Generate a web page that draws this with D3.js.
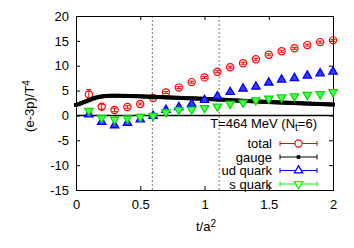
<!DOCTYPE html>
<html><head><meta charset="utf-8">
<script src="https://cdn.jsdelivr.net/npm/d3@7"></script>
<style>
html,body{margin:0;padding:0;background:#fff;}
text{font-family:"Liberation Sans",Arial,Helvetica,sans-serif;font-size:13px;fill:#000;}
</style></head>
<body><svg id="c" width="354" height="248"></svg>
<script>
// ---- data ----
const tPoints = [0.1,0.2,0.3,0.4,0.5,0.6,0.7,0.8,0.9,1.0,1.1,1.2,1.3,1.4,1.5,1.6,1.7,1.8,1.9,2.0];
const totalVals = [4.2,1.75,1.1,1.7,2.3,3.5,4.6,5.6,6.7,7.65,8.8,9.7,10.5,11.3,12.2,12.9,13.5,14.15,14.75,15.1];
const totalErr  = [1.0,0.5,0.35,0.25,0.2,0.2,0.2,0.2,0.2,0.2,0.2,0.2,0.2,0.2,0.2,0.2,0.2,0.2,0.2,0.2];
const udVals = [0.2,-1.3,-2.0,-1.5,-0.8,-0.1,1.1,1.65,2.3,3.1,3.85,4.7,5.4,5.8,6.6,7.2,7.5,8.0,8.45,8.8];
const sVals  = [0.95,-0.5,-0.8,-0.6,-0.3,-0.1,0.65,1.1,1.2,1.5,1.8,2.35,2.6,3.05,3.4,3.65,3.85,4.15,4.3,4.7];
const gaugeStep = 0.02;
const gaugeVals = [2.10,2.25,2.45,2.65,2.85,3.05,3.25,3.45,3.60,3.72,3.82,3.88,3.92,3.95,3.96,3.96,3.96,3.95,3.94,3.93,
 3.92,3.91,3.89,3.88,3.86,3.84,3.82,3.80,3.78,3.76,3.74,3.72,3.70,3.68,3.66,3.64,3.62,3.60,3.58,3.56,
 3.54,3.52,3.50,3.48,3.46,3.44,3.42,3.40,3.38,3.36,3.33,3.31,3.29,3.26,3.24,3.21,3.19,3.16,3.13,3.11,
 3.08,3.05,3.02,3.00,2.97,2.94,2.92,2.89,2.87,2.84,2.82,2.79,2.77,2.74,2.72,2.70,2.67,2.65,2.63,2.61,
 2.59,2.57,2.55,2.53,2.51,2.49,2.47,2.45,2.43,2.41,2.39,2.37,2.35,2.33,2.31,2.29,2.27,2.25,2.23,2.21,2.19];
const xTicks = [0,0.5,1,1.5,2];
const xTickLabels = ["0","0.5","1","1.5","2"];
const yTicks = [-15,-10,-5,0,5,10,15,20];
const yTickLabels = ["-15","-10","-5","0","5","10","15","20"];
const vLines = [0.59,1.11];
const legendNames = ["total","gauge","ud quark","s quark"];
const colors = {total:"#ff0000",gauge:"#000000",ud:"#0000ff",s:"#00ff00"};

// ---- layout ----
const L=76,R=333,T=16,B=190;
const x = d3.scaleLinear().domain([0,2]).range([L,R]);
const y = d3.scaleLinear().domain([-15,20]).range([B,T]);
const svg = d3.select("#c");

// axes with inward ticks
const ax = svg.append("g");
ax.append("g").attr("transform",`translate(${L},0)`)
  .call(d3.axisLeft(y).tickValues(yTicks).tickFormat((d,i)=>yTickLabels[i]).tickSizeInner(-4).tickSizeOuter(0).tickPadding(7));
ax.append("g").attr("transform",`translate(${R},0)`)
  .call(d3.axisRight(y).tickValues(yTicks).tickFormat("").tickSizeInner(-4).tickSizeOuter(0));
ax.append("g").attr("transform",`translate(0,${B})`)
  .call(d3.axisBottom(x).tickValues(xTicks).tickFormat((d,i)=>xTickLabels[i]).tickSizeInner(-4).tickSizeOuter(0).tickPadding(10));
ax.append("g").attr("transform",`translate(0,${T})`)
  .call(d3.axisTop(x).tickValues(xTicks).tickFormat("").tickSizeInner(-4).tickSizeOuter(0));
ax.selectAll(".domain").remove();
ax.selectAll(".tick line").attr("stroke","#000").attr("stroke-width",1);
ax.selectAll("text").style("font-size","13px").attr("fill","#000")
  .style("font-family",'"Liberation Sans",Arial,sans-serif');

// vertical dashed lines
svg.selectAll(".vl").data(vLines).enter().append("line")
  .attr("x1",d=>x(d)+0.5).attr("x2",d=>x(d)+0.5).attr("y1",T).attr("y2",B)
  .attr("stroke","#777").attr("stroke-width",1).attr("stroke-dasharray","2,2");

// zero line
svg.append("line").attr("x1",L).attr("x2",R).attr("y1",y(0)).attr("y2",y(0))
  .attr("stroke","#000").attr("stroke-width",1.5);

// frame
svg.append("rect").attr("x",L+0.5).attr("y",T+0.5).attr("width",R-L).attr("height",B-T)
  .attr("fill","none").attr("stroke","#000").attr("stroke-width",1);

// key title
const title = svg.append("text").attr("x",317).attr("y",128).attr("text-anchor","end");
title.append("tspan").text("T=464 MeV (N");
title.append("tspan").attr("baseline-shift","-25%").style("font-size","10px").text("t");
title.append("tspan").text("=6)");

const plot = svg.append("g");
const ptsData = tPoints.map((t,i)=>({t,tot:totalVals[i],err:totalErr[i],ud:udVals[i],s:sVals[i]}));

// total: error bars + open circles
const tg = plot.append("g");
ptsData.forEach(d=>{
  const cx=x(d.t), y1=y(d.tot+d.err), y2=y(d.tot-d.err);
  tg.append("line").attr("x1",cx).attr("x2",cx).attr("y1",y1).attr("y2",y2).attr("stroke",colors.total).attr("stroke-width",1);
  tg.append("line").attr("x1",cx-2.5).attr("x2",cx+2.5).attr("y1",y1).attr("y2",y1).attr("stroke",colors.total).attr("stroke-width",1);
  tg.append("line").attr("x1",cx-2.5).attr("x2",cx+2.5).attr("y1",y2).attr("y2",y2).attr("stroke",colors.total).attr("stroke-width",1);
});
tg.selectAll("circle").data(ptsData).enter().append("circle")
  .attr("cx",d=>x(d.t)).attr("cy",d=>y(d.tot)).attr("r",3.6)
  .attr("fill","none").attr("stroke",colors.total).attr("stroke-width",1.2);

// gauge: dense filled squares
const gData = gaugeVals.map((v,i)=>({t:i*gaugeStep,v}));
plot.append("path").datum(gData)
  .attr("d",d3.line().x(d=>x(d.t)).y(d=>y(d.v)))
  .attr("fill","none").attr("stroke","#333").attr("stroke-width",3.5);
plot.append("g").selectAll("rect").data(gData).enter().append("rect")
  .attr("x",d=>x(d.t)-2).attr("y",d=>y(d.v)-2).attr("width",4).attr("height",4)
  .attr("fill","#000");

// ud quark: triangles
const tri = d3.symbol().type(d3.symbolTriangle).size(30);
plot.append("g").selectAll("path").data(ptsData).enter().append("path")
  .attr("d",tri).attr("transform",d=>`translate(${x(d.t)},${y(d.ud)})`)
  .attr("fill","#3a3aff").attr("stroke",colors.ud).attr("stroke-width",1.3);

// s quark: inverted triangles
plot.append("g").selectAll("path").data(ptsData).enter().append("path")
  .attr("d",tri).attr("transform",d=>`translate(${x(d.t)},${y(d.s)}) rotate(180)`)
  .attr("fill","#5cff5c").attr("stroke","#00e000").attr("stroke-width",1.3);

// legend
const legY = [143.5,157,170.5,184];
const lg = svg.append("g");
legendNames.forEach((name,i)=>{
  const key = ["total","gauge","ud","s"][i];
  const c = colors[key], yy = legY[i];
  lg.append("text").attr("x",272).attr("y",yy+4.5).attr("text-anchor","end").text(name);
  lg.append("line").attr("x1",280).attr("x2",317).attr("y1",yy).attr("y2",yy).attr("stroke",c).attr("stroke-width",1);
  [280,317].forEach(xx=>lg.append("line").attr("x1",xx).attr("x2",xx).attr("y1",yy-2.5).attr("y2",yy+2.5).attr("stroke",c).attr("stroke-width",1));
  const mx = 298.5;
  if(key==="total") lg.append("circle").attr("cx",mx).attr("cy",yy).attr("r",3.6).attr("fill","#fff").attr("stroke",c).attr("stroke-width",1.2);
  if(key==="gauge") lg.append("rect").attr("x",mx-1.8).attr("y",yy-1.8).attr("width",3.6).attr("height",3.6).attr("fill","#000");
  if(key==="ud") lg.append("path").attr("d",tri).attr("transform",`translate(${mx},${yy})`).attr("fill","#fff").attr("stroke",c).attr("stroke-width",1.3);
  if(key==="s") lg.append("path").attr("d",tri).attr("transform",`translate(${mx},${yy}) rotate(180)`).attr("fill","#fff").attr("stroke",c).attr("stroke-width",1.3);
});

// axis labels
const xl = svg.append("text").attr("x",206).attr("y",231).attr("text-anchor","middle");
xl.append("tspan").text("t/a");
xl.append("tspan").attr("baseline-shift","45%").style("font-size","10px").text("2");

const yl = svg.append("text").attr("transform","translate(34,106) rotate(-90)").attr("text-anchor","middle");
yl.append("tspan").text("(e-3p)/T");
yl.append("tspan").attr("baseline-shift","45%").style("font-size","10px").text("4");
</script></body></html>
